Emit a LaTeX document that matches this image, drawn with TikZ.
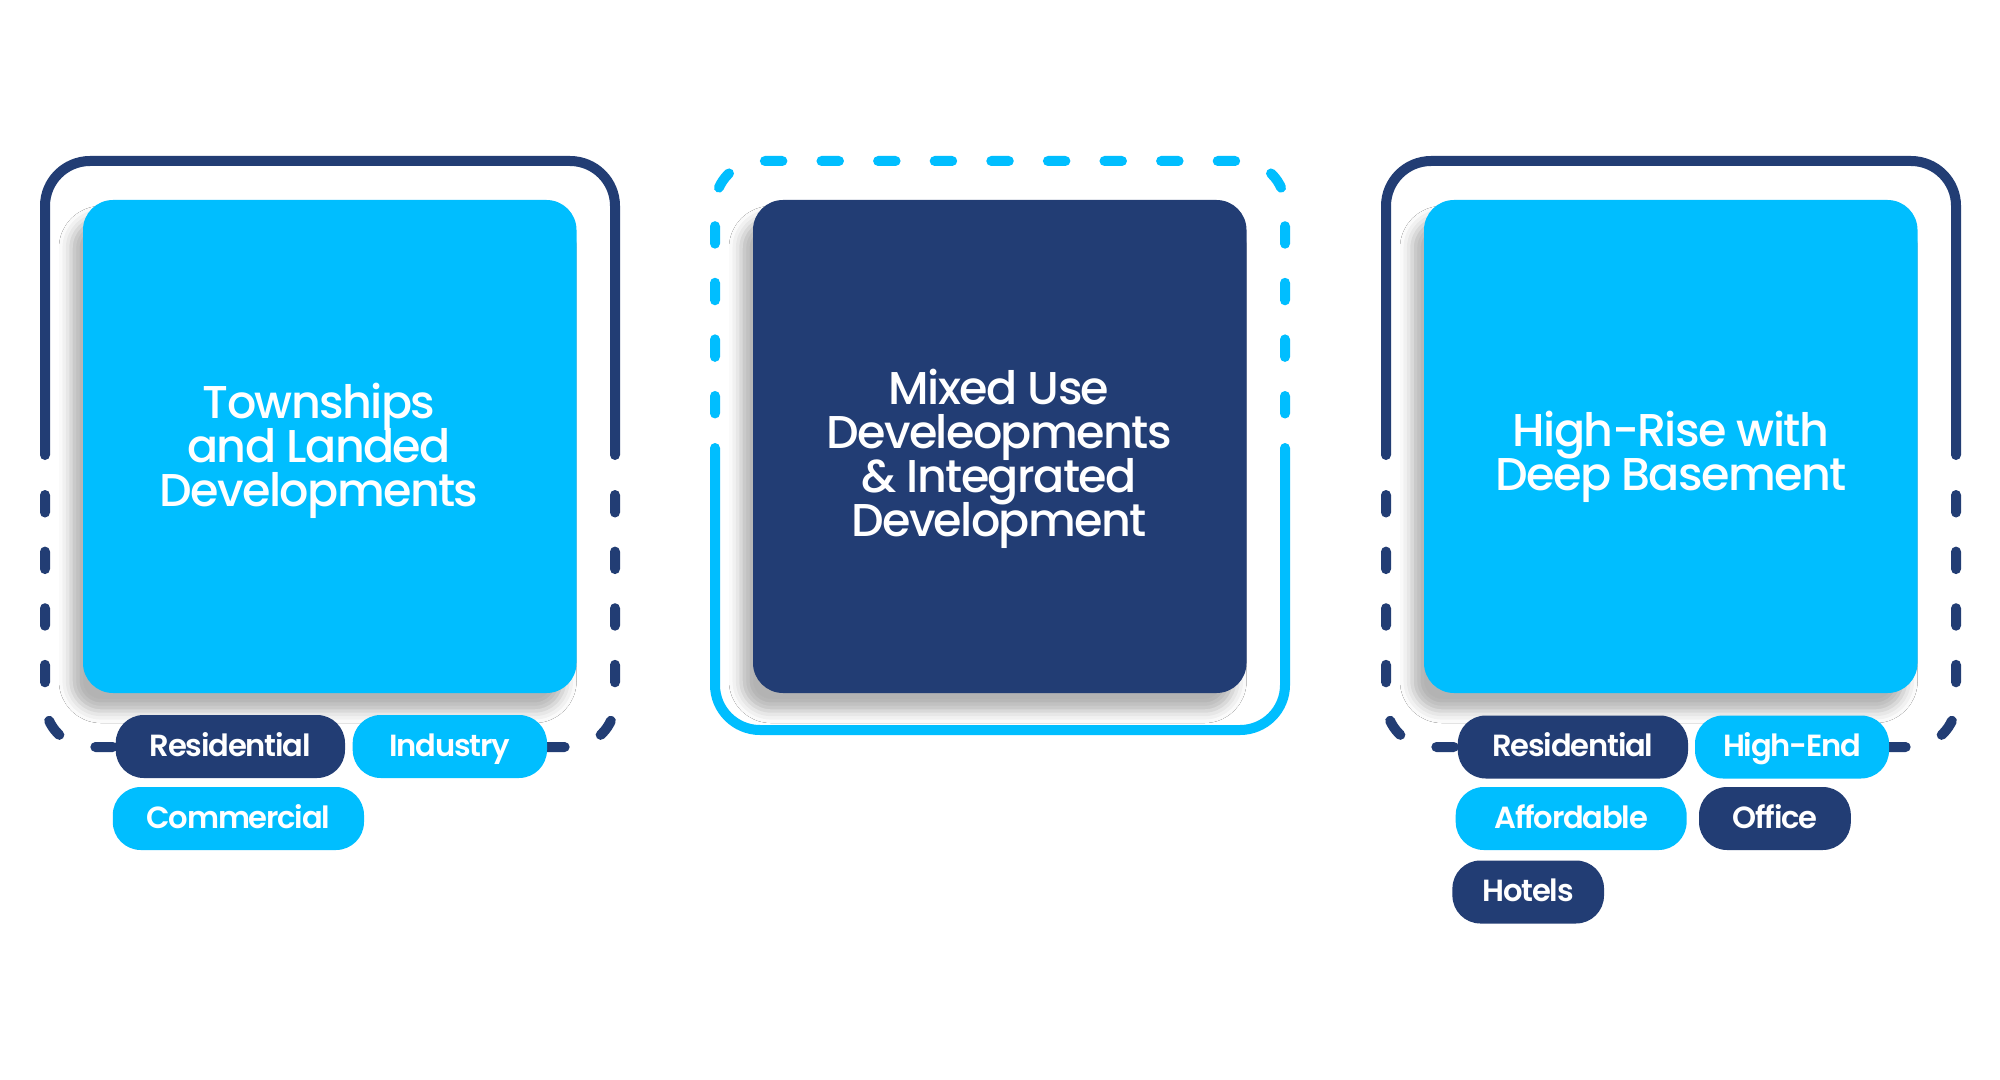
\documentclass[tikz,border=0pt]{standalone}
\usepackage{fontspec}
\IfFontExistsTF{Poppins Medium}{\newfontfamily\titlefont{Poppins Medium}[LetterSpace=-3.5]}{\newfontfamily\titlefont{Poppins}[LetterSpace=-3.5]}
\IfFontExistsTF{Poppins SemiBold}{\newfontfamily\pillfont{Poppins SemiBold}[LetterSpace=-4]}{\newfontfamily\pillfont{Poppins}[LetterSpace=-4]}
\usetikzlibrary{shadows.blur}
\definecolor{lb}{RGB}{0,190,255}
\definecolor{dk}{RGB}{34,61,116}
\begin{document}
\begin{tikzpicture}[x=0.5pt,y=-0.5pt,
  frame/.style={line width=5pt, line cap=round, rounded corners=22.5pt},
  dashfr/.style={line width=5pt, line cap=round, rounded corners=22.5pt, dash pattern=on 8.75pt off 19.55pt},
  bigbox/.style={minimum width=246.75pt, minimum height=246.5pt, rounded corners=15pt, inner sep=0pt,
    blur shadow={shadow xshift=-6pt, shadow yshift=-9pt, shadow blur radius=6pt, shadow opacity=30}},
  title/.style={text=white, font=\titlefont\fontsize{23pt}{22pt}\selectfont, anchor=base, inner sep=0pt},
  pill/.style={rounded corners=14pt, minimum height=31.5pt, inner sep=0pt, text=white,
    font=\pillfont\fontsize{15.3pt}{16pt}\selectfont, text height=0.95em, text depth=0pt},
]
\useasboundingbox[fill=white] (0,0) rectangle (2000,1080);

% left frame
\draw[frame, dk] (45,455) -- (45,161) -- (615,161) -- (615,455);
\draw[dashfr, dk, dash phase=10.8pt] (45,460) -- (45,747) -- (330,747);
\draw[dashfr, dk, dash phase=10.8pt] (615,460) -- (615,747) -- (330,747);
% middle frame
\draw[frame, lb] (715,448) -- (715,730) -- (1285,730) -- (1285,448);
\draw[dashfr, lb, dash phase=13.03pt] (715,444) -- (715,161) -- (1285,161) -- (1285,444);
% right frame
\draw[frame, dk] (1386,455) -- (1386,161) -- (1956,161) -- (1956,455);
\draw[dashfr, dk, dash phase=10.8pt] (1386,460) -- (1386,747) -- (1671,747);
\draw[dashfr, dk, dash phase=10.8pt] (1956,460) -- (1956,747) -- (1671,747);

% boxes
\node[bigbox, fill=lb] (box1) at (329.75,446.5) {};
\node[bigbox, fill=dk] (box2) at (999.75,446.5) {};
\node[bigbox, fill=lb] (box3) at (1670.75,446.5) {};

% titles
\node[title] (t1a) at (319,418) {Townships};
\node[title] (t1b) at (319,462) {and Landed};
\node[title] (t1c) at (319,506) {Developments};
\node[title] (t2a) at (999,404) {Mixed Use};
\node[title] (t2b) at (999,448) {Develeopments};
\node[title] (t2c) at (999,492) {\& Integrated};
\node[title] (t2d) at (999,536) {Development};
\node[title] (t3a) at (1671,446) {High-Rise with};
\node[title] (t3b) at (1671,490) {Deep Basement};

% pills
\node[pill, fill=dk, minimum width=114.65pt] (lres) at (230.35,746.5) {Residential};
\node[pill, fill=lb, minimum width=97.15pt] (lind) at (449.85,746.5) {Industry};
\node[pill, fill=lb, minimum width=125.6pt] (lcom) at (238.4,818.5) {Commercial};
\node[pill, fill=dk, minimum width=115.1pt] (rres) at (1572.9,747) {Residential};
\node[pill, fill=lb, minimum width=97pt] (rhig) at (1792,747) {High-End};
\node[pill, fill=lb, minimum width=115.45pt] (raff) at (1571.15,818.5) {Affordable};
\node[pill, fill=dk, minimum width=75.9pt] (roff) at (1774.9,818.5) {Office};
\node[pill, fill=dk, minimum width=75.8pt] (rhot) at (1528.2,892) {Hotels};
\end{tikzpicture}
\end{document}
